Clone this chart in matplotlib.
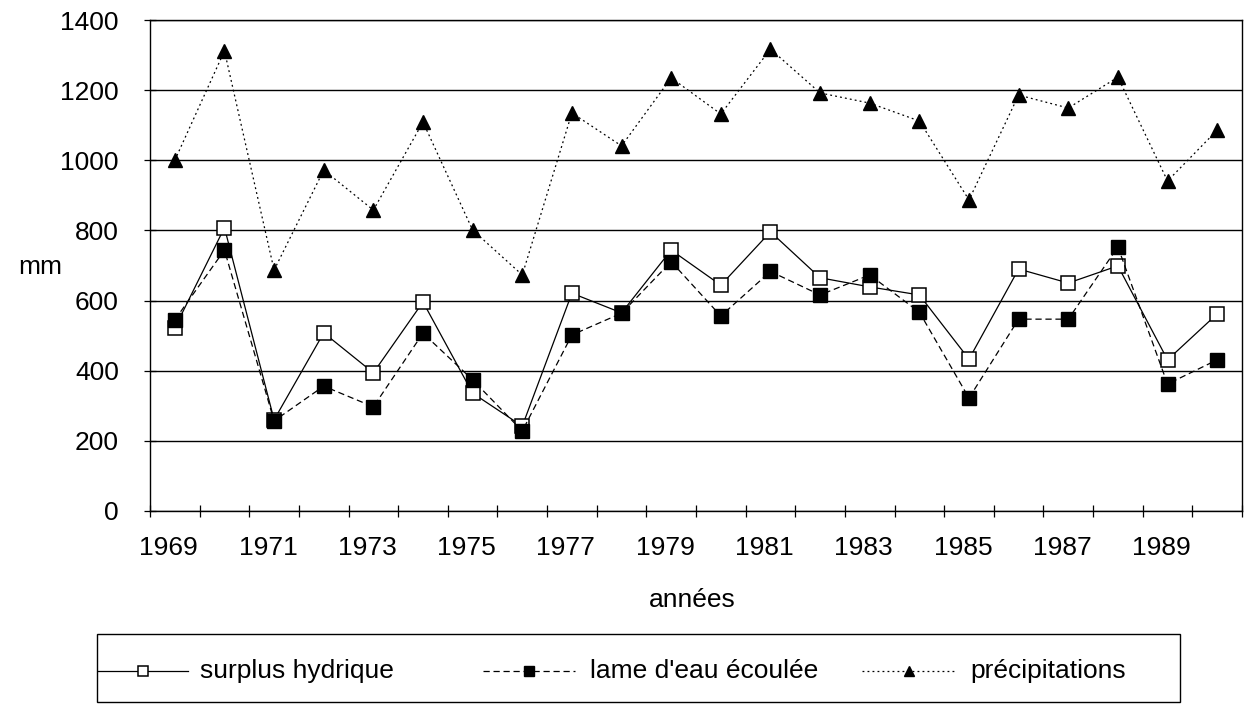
import matplotlib
matplotlib.use("Agg")
import matplotlib.pyplot as plt
from matplotlib.lines import Line2D
from matplotlib.patches import Rectangle
from matplotlib.transforms import ScaledTranslation

plt.rcParams["font.family"] = ["Liberation Sans", "DejaVu Sans"]

# Annual water balance, 1969-1990 (mm)
years = list(range(1969, 1991))
surplus = [522, 808, 260, 508, 394, 596, 336, 242, 621, 565, 744,
           644, 796, 665, 639, 616, 433, 690, 650, 699, 431, 562]
lame = [545, 744, 257, 356, 297, 507, 374, 228, 502, 564, 711,
        556, 683, 616, 673, 567, 322, 547, 547, 753, 362, 431]
precip = [1000, 1312, 687, 972, 858, 1109, 801, 673, 1135, 1041, 1235,
          1132, 1317, 1192, 1163, 1112, 887, 1186, 1149, 1237, 941, 1086]
y_ticks = [0, 200, 400, 600, 800, 1000, 1200, 1400]
series_names = ["surplus hydrique", "lame d'eau écoulée", "précipitations"]

W, H = 1253, 716
fig = plt.figure(figsize=(W / 100, H / 100), dpi=100)


def fx(px):
    return px / W


def fy(py):
    return 1 - py / H


left, right, top, bottom = 150, 1242, 20, 511
ax = fig.add_axes([fx(left), fy(bottom), fx(right - left), fy(top) - fy(bottom)])

FS = 19
n = len(years)
xs = list(range(n))

styles = [
    dict(ls="-", marker="s", mfc="white", mec="black", ms=9.5, mew=1.1),
    dict(ls=(0, (5, 3)), marker="s", mfc="black", mec="black", ms=9.5),
    dict(ls=(0, (1.5, 2.5)), marker="^", mfc="black", mec="black", ms=10),
]
series = [surplus, lame, precip]
zorders = [3, 4, 3]
for vals, st, z in zip(series, styles, zorders):
    ax.plot(xs, vals, color="black", lw=0.9, zorder=z, clip_on=False, **st)

ax.set_xlim(-0.5, n - 0.5)
ax.set_ylim(0, 1400)
ax.set_yticks(y_ticks)
ax.set_yticklabels([str(v) for v in y_ticks], fontsize=FS)
ax.yaxis.grid(True, color="black", lw=1.0)
ax.set_axisbelow(True)

# tick marks between categories, labels on every other year
ax.set_xticks([i - 0.5 for i in range(n + 1)])
ax.set_xticklabels([])
ax.set_xticks(xs[::2], minor=True)
ax.set_xticklabels([str(y) for y in years[::2]], minor=True, fontsize=FS)
ax.tick_params(axis="x", which="major", direction="inout", length=9, width=0.9)
ax.tick_params(axis="x", which="minor", length=0, pad=18)
ax.tick_params(axis="y", direction="inout", length=9, width=0.9, pad=18)
shift = ScaledTranslation(-6 / 100, 0, fig.dpi_scale_trans)
for lab in ax.get_xticklabels(minor=True):
    lab.set_transform(lab.get_transform() + shift)

for s in ax.spines.values():
    s.set_linewidth(1.0)
    s.set_color("black")

fig.text(fx(40), fy(267), "mm", fontsize=FS, ha="center", va="center")
fig.text(fx(692), fy(600), "années", fontsize=FS, ha="center", va="center")

# legend frame and entries
fig.add_artist(Rectangle((fx(97), fy(702)), fx(1180 - 97), fy(634) - fy(702),
                         transform=fig.transFigure, fill=False, ec="black", lw=1.0))
leg_y = 671
handle_x = [(98, 188), (483, 575), (862, 955)]
text_x = [200, 590, 970]
for (x0, x1), tx, st, name in zip(handle_x, text_x, styles, series_names):
    st2 = dict(st)
    st2["ms"] = st["ms"] * 0.75
    fig.add_artist(Line2D([fx(x0), fx(x1)], [fy(leg_y), fy(leg_y)],
                          transform=fig.transFigure, color="black", lw=0.9,
                          **{k: v for k, v in st2.items() if k not in ("marker", "mfc", "mec", "ms", "mew")}))
    fig.add_artist(Line2D([fx((x0 + x1) / 2)], [fy(leg_y)], transform=fig.transFigure,
                          color="black", ls="none",
                          **{k: v for k, v in st2.items() if k != "ls"}))
    fig.text(fx(tx), fy(leg_y), name, fontsize=FS, ha="left", va="center")

fig.savefig("out.png", dpi=100)
